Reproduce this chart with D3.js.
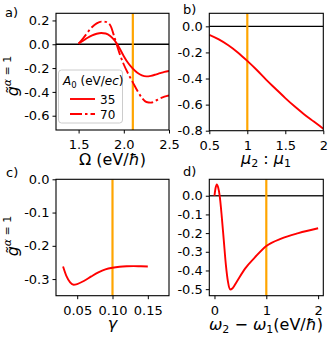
<!DOCTYPE html>
<html>
<head>
<meta charset="utf-8">
<script src="https://cdn.jsdelivr.net/npm/d3@7"></script>
<style>
  body { margin: 0; background: #fff; }
  svg text { font-family: "DejaVu Sans", sans-serif; fill: #000; }
</style>
</head>
<body>
<div id="chart"></div>
<script>
// ---- data ----
// panel a: g vs Omega for two field amplitudes
var omega = [1.50, 1.55, 1.60, 1.65, 1.70, 1.75, 1.80, 1.85, 1.90, 1.95, 2.00,
             2.05, 2.10, 2.15, 2.20, 2.25, 2.30, 2.35, 2.40, 2.45, 2.50];
var gA35 = [0.005, 0.03, 0.055, 0.075, 0.088, 0.094, 0.09, 0.07, 0.03, -0.03, -0.10,
            -0.16, -0.205, -0.24, -0.262, -0.27, -0.265, -0.255, -0.243, -0.232, -0.225];
var gA70 = [0.005, 0.05, 0.10, 0.145, 0.175, 0.19, 0.188, 0.16, 0.05, -0.07, -0.17,
            -0.25, -0.32, -0.39, -0.45, -0.485, -0.49, -0.475, -0.455, -0.44, -0.43];
var legendTitle = "A0 (eV/ec)";
var legendLabels = ["35", "70"];

// panel b: g vs mu2:mu1
var muRatio = [0.5, 0.625, 0.75, 0.875, 1.0, 1.125, 1.25, 1.375, 1.5, 1.625, 1.75, 1.875, 2.0];
var gMu = [-0.065, -0.10, -0.145, -0.20, -0.265, -0.335, -0.41, -0.48, -0.55, -0.615, -0.675, -0.73, -0.785];

// panel c: g vs gamma
var gammaVals = [0.03, 0.035, 0.04, 0.045, 0.05, 0.06, 0.07, 0.08, 0.09, 0.10, 0.11, 0.12, 0.13, 0.14, 0.15];
var gGamma = [-0.262, -0.292, -0.31, -0.317, -0.315, -0.305, -0.292, -0.28, -0.271, -0.266, -0.263, -0.2615, -0.261, -0.2615, -0.262];

// panel d: g vs omega2 - omega1
var dOmega = [0, 0.02, 0.045, 0.07, 0.1, 0.14, 0.18, 0.22, 0.26, 0.3, 0.35, 0.43, 0.59, 0.78, 1.0, 1.3, 1.62, 2.0];
var gDOmega = [0.0, 0.04, 0.061, 0.045, 0.0, -0.11, -0.24, -0.37, -0.46, -0.502, -0.495, -0.46, -0.39, -0.33, -0.269, -0.228, -0.2, -0.174];

// ticks
var aXTicks = [1.5, 2.0, 2.5], aYTicks = [0.2, 0.0, -0.2, -0.4, -0.6];
var bXTicks = [0.5, 1, 1.5, 2], bYTicks = [0.0, -0.2, -0.4, -0.6, -0.8];
var cXTicks = [0.05, 0.10, 0.15], cYTicks = [0.0, -0.1, -0.2, -0.3];
var dXTicks = [0, 1, 2], dYTicks = [0.0, -0.1, -0.2, -0.3, -0.4, -0.5];

var svg = d3.select("#chart").append("svg")
  .attr("width", 330)
  .attr("height", 340);

// build one panel: scales, spines, ticks
function panel(box, xDom, yDom, xTicks, yTicks, xFmt, yFmt) {
  var x = d3.scaleLinear().domain(xDom).range([box.left, box.right]);
  var y = d3.scaleLinear().domain(yDom).range([box.bottom, box.top]);
  var clipId = "clip" + Math.round(box.left) + Math.round(box.top);
  svg.append("clipPath").attr("id", clipId)
    .append("rect")
    .attr("x", box.left).attr("y", box.top)
    .attr("width", box.right - box.left).attr("height", box.bottom - box.top);
  var g = svg.append("g").attr("clip-path", "url(#" + clipId + ")");

  var xAxis = svg.append("g")
    .attr("transform", "translate(0," + box.bottom + ")")
    .call(d3.axisBottom(x).tickValues(xTicks).tickFormat(xFmt)
      .tickSize(3.5).tickSizeOuter(0).tickPadding(6.5));
  var yAxis = svg.append("g")
    .attr("transform", "translate(" + box.left + ",0)")
    .call(d3.axisLeft(y).tickValues(yTicks).tickFormat(yFmt)
      .tickSize(3.5).tickSizeOuter(0).tickPadding(3));
  [xAxis, yAxis].forEach(function(ax) {
    ax.select(".domain").remove();
    ax.selectAll("text").style("font-size", "13px").attr("fill", "#000");
    ax.selectAll("line").attr("stroke", "#000").attr("stroke-width", 1);
  });

  return { x: x, y: y, g: g, box: box };
}

function frame(p) {
  svg.append("rect")
    .attr("x", p.box.left).attr("y", p.box.top)
    .attr("width", p.box.right - p.box.left).attr("height", p.box.bottom - p.box.top)
    .attr("fill", "none").attr("stroke", "#000").attr("stroke-width", 1.1);
}

function zeroLine(p, color) {
  p.g.append("line")
    .attr("x1", p.box.left).attr("x2", p.box.right)
    .attr("y1", p.y(0)).attr("y2", p.y(0))
    .attr("stroke", color).attr("stroke-width", 1.4);
}

function vLine(p, v) {
  p.g.append("line")
    .attr("x1", p.x(v)).attr("x2", p.x(v))
    .attr("y1", p.box.top).attr("y2", p.box.bottom)
    .attr("stroke", "orange").attr("stroke-width", 2.2);
}

function curve(p, xs, ys, dash) {
  var line = d3.line()
    .x(function(d) { return p.x(d[0]); })
    .y(function(d) { return p.y(d[1]); })
    .curve(d3.curveMonotoneX);
  p.g.append("path")
    .datum(xs.map(function(v, i) { return [v, ys[i]]; }))
    .attr("d", line)
    .attr("fill", "none")
    .attr("stroke", "red")
    .attr("stroke-width", 1.9)
    .attr("stroke-dasharray", dash || null);
}

function fix1(d) { return d.toFixed(1); }
function fix2(d) { return d.toFixed(2); }
function plain(d) { return String(d); }

var dashDot = "12,3,2.5,3";

// ---- panel a ----
var pa = panel({ left: 56, right: 169, top: 13.3, bottom: 130 }, [1.25, 2.5], [-0.72, 0.26],
  aXTicks, aYTicks, fix1, fix1);
zeroLine(pa, "#000");
vLine(pa, 2.1);
curve(pa, omega, gA35);
curve(pa, omega, gA70, dashDot);
frame(pa);

// legend
var leg = svg.append("g");
leg.append("rect")
  .attr("x", 58.5).attr("y", 70).attr("width", 64).attr("height", 53).attr("rx", 3)
  .attr("fill", "#fff").attr("fill-opacity", 0.85)
  .attr("stroke", "#ccc").attr("stroke-width", 1);
var lt = leg.append("text").attr("x", 63).attr("y", 85).style("font-size", "12px");
lt.append("tspan").style("font-style", "italic").text(legendTitle.charAt(0));
lt.append("tspan").attr("dy", 3).style("font-size", "8.5px").text(legendTitle.charAt(1));
lt.append("tspan").attr("dy", -3).text(" (eV/");
lt.append("tspan").style("font-style", "italic").text("ec");
lt.append("tspan").text(")");
legendLabels.forEach(function(lbl, i) {
  var yy = 99 + i * 15;
  leg.append("line")
    .attr("x1", 70).attr("x2", 95).attr("y1", yy).attr("y2", yy)
    .attr("stroke", "red").attr("stroke-width", 1.9)
    .attr("stroke-dasharray", i === 1 ? dashDot : null);
  leg.append("text").attr("x", 100).attr("y", yy + 4.5)
    .style("font-size", "12px").text(lbl);
});

// ---- panel b ----
var pb = panel({ left: 209.3, right: 323.3, top: 13.3, bottom: 130.7 }, [0.5, 2], [-0.8, 0.1],
  bXTicks, bYTicks, plain, fix1);
zeroLine(pb, "#000");
vLine(pb, 1);
curve(pb, muRatio, gMu);
frame(pb);

// ---- panel c ----
var pc = panel({ left: 56, right: 169, top: 179.3, bottom: 295.7 }, [0.02, 0.18], [-0.35, 0],
  cXTicks, cYTicks, fix2, fix1);
vLine(pc, 0.1);
curve(pc, gammaVals, gGamma);
frame(pc);

// ---- panel d ----
var pd = panel({ left: 209.3, right: 323.3, top: 179.3, bottom: 295.7 }, [-0.1, 2.1], [-0.535, 0.088],
  dXTicks, dYTicks, plain, fix1);
zeroLine(pd, "#222");
vLine(pd, 1);
curve(pd, dOmega, gDOmega);
frame(pd);

// ---- panel letters ----
[["a)", 5, 17], ["b)", 183, 14], ["c)", 6, 177], ["d)", 183, 176]].forEach(function(t) {
  svg.append("text").attr("x", t[1]).attr("y", t[2]).style("font-size", "13px").text(t[0]);
});

// ---- y labels (g tilde, alpha = 1) ----
function gLabel(cy) {
  var t = svg.append("text")
    .attr("transform", "translate(18," + cy + ") rotate(-90)")
    .attr("text-anchor", "middle")
    .style("font-size", "16px");
  t.append("tspan").style("font-style", "italic").text("g\u0303");
  t.append("tspan").attr("dy", -7).style("font-size", "11px")
    .html("<tspan font-style='italic'>\u03b1</tspan> = 1");
}
gLabel(76);
gLabel(236);

// ---- x labels ----
var xa = svg.append("text").attr("x", 112.5).attr("y", 164.5).attr("text-anchor", "middle")
  .style("font-size", "16px");
xa.append("tspan").text("\u03a9 (eV/");
xa.append("tspan").style("font-style", "italic").text("\u0127");
xa.append("tspan").text(")");

var xb = svg.append("text").attr("x", 266).attr("y", 164).attr("text-anchor", "middle")
  .style("font-size", "16px");
xb.append("tspan").style("font-style", "italic").text("\u03bc");
xb.append("tspan").attr("dy", 3).style("font-size", "11px").text("2");
xb.append("tspan").attr("dy", -3).text(" : ");
xb.append("tspan").style("font-style", "italic").text("\u03bc");
xb.append("tspan").attr("dy", 3).style("font-size", "11px").text("1");

svg.append("text").attr("x", 112.5).attr("y", 329).attr("text-anchor", "middle")
  .style("font-size", "16px").style("font-style", "italic").text("\u03b3");

var xd = svg.append("text").attr("x", 266).attr("y", 330).attr("text-anchor", "middle")
  .style("font-size", "16px");
xd.append("tspan").style("font-style", "italic").text("\u03c9");
xd.append("tspan").attr("dy", 3).style("font-size", "11px").text("2");
xd.append("tspan").attr("dy", -3).text(" \u2212 ");
xd.append("tspan").style("font-style", "italic").text("\u03c9");
xd.append("tspan").attr("dy", 3).style("font-size", "11px").text("1");
xd.append("tspan").attr("dy", -3).text("(eV/");
xd.append("tspan").style("font-style", "italic").text("\u0127");
xd.append("tspan").text(")");
</script>
</body>
</html>
